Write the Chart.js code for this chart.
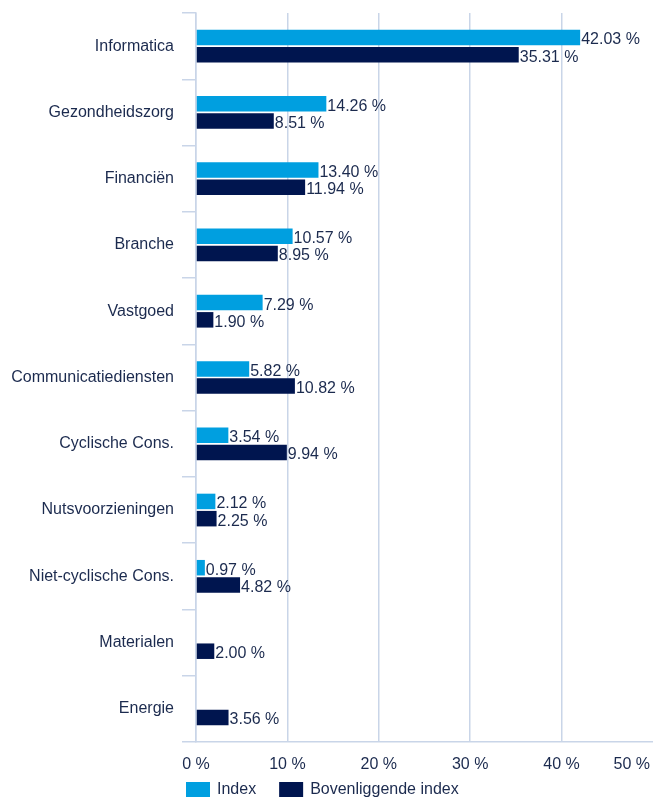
<!DOCTYPE html>
<html>
<head>
<meta charset="utf-8">
<script src="https://cdn.jsdelivr.net/npm/chart.js@4/dist/chart.umd.min.js"></script>
<style>
  html, body { margin: 0; padding: 0; background: #ffffff; }
  #wrap { width: 653px; height: 797px; position: relative; }
</style>
</head>
<body>
<div id="wrap"><canvas id="c" width="653" height="797"></canvas></div>
<script>
const categories = ['Informatica', 'Gezondheidszorg', 'Financiën', 'Branche', 'Vastgoed',
  'Communicatiediensten', 'Cyclische Cons.', 'Nutsvoorzieningen', 'Niet-cyclische Cons.',
  'Materialen', 'Energie'];
const indexValues = [42.03, 14.26, 13.40, 10.57, 7.29, 5.82, 3.54, 2.12, 0.97, null, null];
const parentValues = [35.31, 8.51, 11.94, 8.95, 1.90, 10.82, 9.94, 2.25, 4.82, 2.00, 3.56];
const seriesNames = ['Index', 'Bovenliggende index'];
const xTicks = [0, 10, 20, 30, 40, 50];

const COL_INDEX = '#009fe0';
const COL_PARENT = '#00154f';
const TEXT = '#1b2a4e';
const GRID = '#c9d5e8';
const FONT = "'Liberation Sans', Arial, Helvetica, sans-serif";

function fmt(v) { return v.toFixed(2) + ' %'; }

const valueLabels = {
  id: 'valueLabels',
  afterDatasetsDraw(chart) {
    const ctx = chart.ctx;
    ctx.save();
    ctx.font = '16px ' + FONT;
    ctx.fillStyle = TEXT;
    ctx.textAlign = 'left';
    ctx.textBaseline = 'middle';
    chart.data.datasets.forEach((ds, di) => {
      const meta = chart.getDatasetMeta(di);
      meta.data.forEach((bar, i) => {
        const v = ds.data[i];
        if (v === null || v === undefined) return;
        ctx.fillText(fmt(v), bar.x + 1, bar.y + 2.5);
      });
    });
    ctx.restore();
  }
};

const xLabels = {
  id: 'xLabels',
  afterDraw(chart) {
    const s = chart.scales.x;
    const ctx = chart.ctx;
    ctx.save();
    ctx.font = '16px ' + FONT;
    ctx.fillStyle = TEXT;
    ctx.textAlign = 'center';
    ctx.textBaseline = 'middle';
    const y = s.top + 12.5 + 9.6;
    xTicks.forEach(t => {
      const txt = t + ' %';
      const w = ctx.measureText(txt).width;
      let x = s.getPixelForValue(t);
      x = Math.min(x, chart.width - 3 - w / 2);
      ctx.fillText(txt, x, y);
    });
    ctx.restore();
  }
};

const customLegend = {
  id: 'customLegend',
  afterDraw(chart) {
    const ctx = chart.ctx;
    ctx.save();
    ctx.font = '16px ' + FONT;
    ctx.textBaseline = 'middle';
    ctx.textAlign = 'left';
    const y = 790;
    let x = 186;
    const cols = [COL_INDEX, COL_PARENT];
    seriesNames.forEach((name, i) => {
      ctx.fillStyle = cols[i];
      ctx.fillRect(x, 782, 24, 16);
      ctx.fillStyle = TEXT;
      ctx.fillText(name, x + 31, y);
      x += 31 + ctx.measureText(name).width + 23;
    });
    ctx.restore();
  }
};

new Chart(document.getElementById('c'), {
  type: 'bar',
  data: {
    labels: categories,
    datasets: [
      { label: seriesNames[0], data: indexValues, backgroundColor: COL_INDEX, borderWidth: 0,
        categoryPercentage: 0.52, barPercentage: 0.9 },
      { label: seriesNames[1], data: parentValues, backgroundColor: COL_PARENT, borderWidth: 0,
        categoryPercentage: 0.52, barPercentage: 0.9 }
    ]
  },
  options: {
    indexAxis: 'y',
    responsive: false,
    animation: false,
    devicePixelRatio: 1,
    layout: { padding: { top: 13, bottom: 23.8, left: 0, right: 0 } },
    plugins: {
      legend: { display: false },
      tooltip: { enabled: false }
    },
    scales: {
      x: {
        min: 0, max: 50,
        afterBuildTicks(s) { s.ticks = xTicks.map(v => ({ value: v })); },
        afterFit(s) { s.paddingRight = 0; s.paddingLeft = 0; s.height = 31.2; },
        ticks: { stepSize: 10, padding: 12, color: 'rgba(0,0,0,0)',
          font: { size: 16, family: FONT }, maxRotation: 0, autoSkip: false,
          callback: v => v + ' %' },
        grid: { color: c => (c.tick && c.tick.value === 50) ? 'rgba(0,0,0,0)' : GRID,
          lineWidth: 1.5, drawTicks: false },
        border: { display: true, color: GRID, width: 1.5 }
      },
      y: {
        afterFit(s) { s.width = 196; s.paddingTop = 0; s.paddingBottom = 0; },
        ticks: { color: TEXT, padding: 8, font: { size: 16, family: FONT } },
        grid: { display: true, drawOnChartArea: false, offset: true, tickLength: 14,
          color: GRID, lineWidth: 1.5 },
        border: { display: true, color: GRID, width: 1.5 }
      }
    }
  },
  plugins: [valueLabels, xLabels, customLegend]
});
</script>
</body>
</html>
